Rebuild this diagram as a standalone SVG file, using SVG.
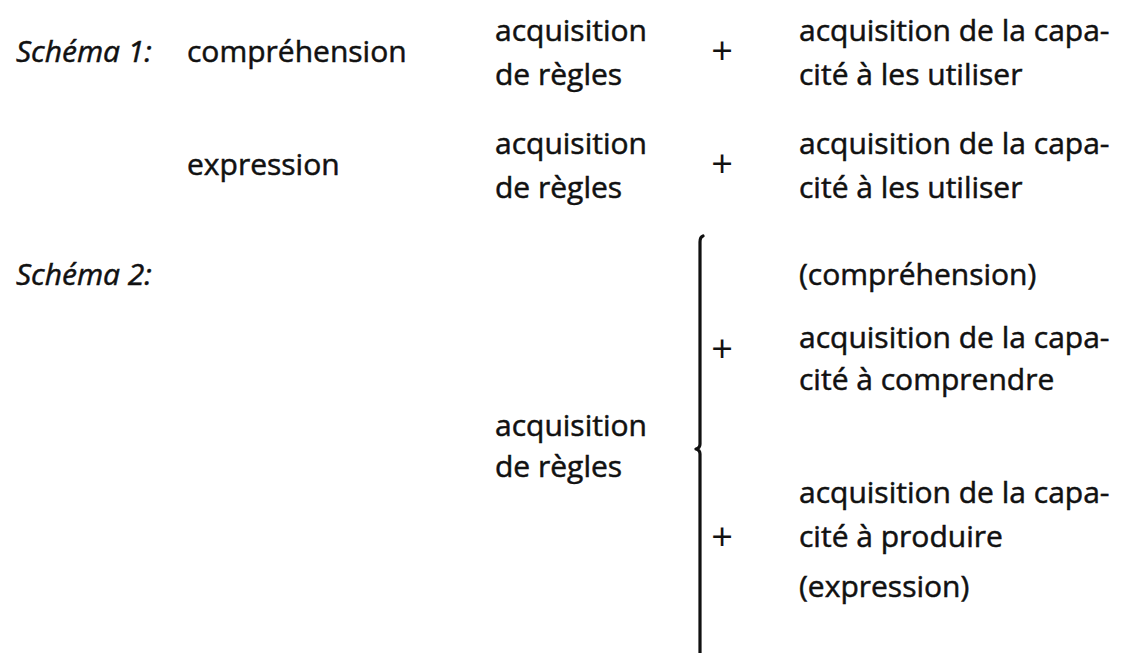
<svg xmlns="http://www.w3.org/2000/svg" width="1125" height="653" viewBox="0 0 1125 653">
<style>
text{font-family:"Open Sans","Liberation Sans",sans-serif;font-size:30px;fill:#111;stroke:#111;stroke-width:0.5px}
.it{font-style:italic}
.plus{text-anchor:middle;font-size:38px;stroke-width:0}
.brace{fill:none;stroke:#111;stroke-width:3.2;stroke-linecap:round;stroke-linejoin:round}
</style>
<rect width="1125" height="653" fill="#fff"/>
<g id="schema1">
  <g id="s1-label"><text class="it" x="16" y="62">Schéma 1:</text></g>
  <g id="s1-comp"><text x="187" y="62">compréhension</text></g>
  <g id="s1-regles"><text x="495" y="41">acquisition</text><text x="495" y="85">de règles</text></g>
  <g id="s1-plus"><text class="plus" x="722" y="64">+</text></g>
  <g id="s1-cap"><text x="799" y="41">acquisition de la capa-</text><text x="799" y="85">cité à les utiliser</text></g>
  <g id="s1-expr"><text x="187" y="175">expression</text></g>
  <g id="s1-regles2"><text x="495" y="154">acquisition</text><text x="495" y="198">de règles</text></g>
  <g id="s1-plus2"><text class="plus" x="722" y="177">+</text></g>
  <g id="s1-cap2"><text x="799" y="154">acquisition de la capa-</text><text x="799" y="198">cité à les utiliser</text></g>
</g>
<g id="schema2">
  <g id="s2-label"><text class="it" x="16" y="285">Schéma 2:</text></g>
  <g id="s2-regles"><text x="495" y="436">acquisition</text><text x="495" y="477">de règles</text></g>
  <g id="s2-comp"><text x="799" y="285">(compréhension)</text></g>
  <g id="s2-plus1"><text class="plus" x="722" y="362">+</text></g>
  <g id="s2-cap1"><text x="799" y="348">acquisition de la capa-</text><text x="799" y="390">cité à comprendre</text></g>
  <g id="s2-plus2"><text class="plus" x="722" y="550">+</text></g>
  <g id="s2-cap2"><text x="799" y="503">acquisition de la capa-</text><text x="799" y="547">cité à produire</text></g>
  <g id="s2-expr"><text x="799" y="597">(expression)</text></g>
</g>
<g id="connectors">
  <path class="brace" d="M703,236 Q700,237 700,242 L700,444 Q700,448 696,449 Q700,450 700,454 L700,660"/>
</g>
</svg>
